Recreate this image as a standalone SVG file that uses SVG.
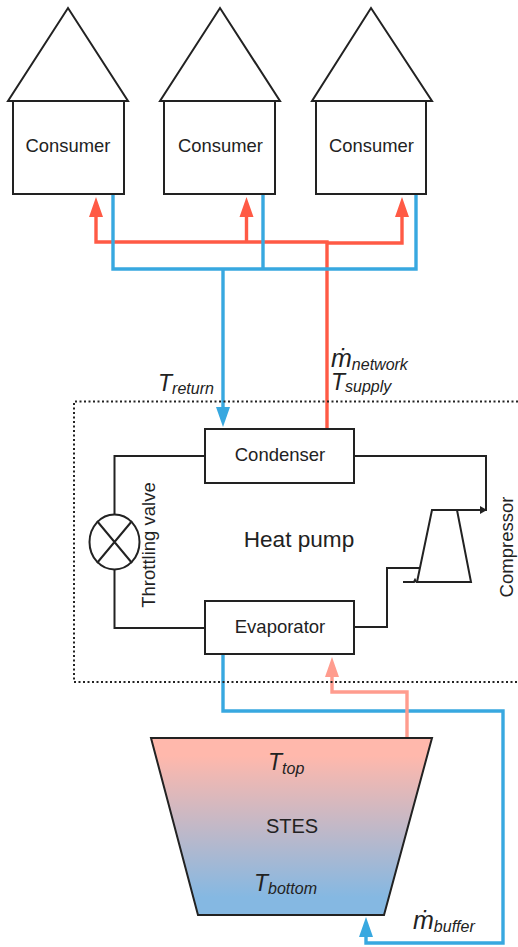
<svg xmlns="http://www.w3.org/2000/svg" width="518" height="947" viewBox="0 0 518 947">
<style>
text{font-family:"Liberation Sans",Arial,sans-serif;fill:#222;text-anchor:middle}
.b{fill:#fff;stroke:#222;stroke-width:2}
.f{fill:none;stroke:#222;stroke-width:2;stroke-linejoin:miter}
.t{font-size:18.400px}
.i{font-style:italic;font-size:23px;text-anchor:start}
.m{font-size:25px}
.u{font-size:16px}
.s{font-size:18.500px}
.red{fill:none;stroke:#ff5a45;stroke-width:3.4}
.blue{fill:none;stroke:#38a8e0;stroke-width:3.4}
.sal{fill:none;stroke:#ff9c8e;stroke-width:3.4}
</style>
<defs>
<linearGradient id="g" x1="0" y1="0" x2="0" y2="1">
<stop offset="0.1" stop-color="#ffb8ac"/><stop offset="0.9" stop-color="#85b8e2"/>
</linearGradient>
</defs>
<g id="connectors">
<path class="red" d="M327 429V242H96V210M246.500 242V210M327 243H402V210"/>
<path d="M96 197l-7 20h14zM246.500 197l-7 20h14zM402 197l-7 20h14z" fill="#ff5a45"/>
<path class="blue" d="M113 195V269H416V195M263 195V269M223 269V410"/>
<path d="M223 427l-7-20h14z" fill="#38a8e0"/>
<path class="blue" d="M223 655V711H503V943H366V930"/>
<path d="M366 917l-7 20h14z" fill="#38a8e0"/>
<path class="sal" d="M407 738V692H332V670"/>
<path d="M332 657l-7 20h14z" fill="#ff9c8e"/>
<path class="f" d="M205 456H114.500V515M114.500 569V628H205M354 456H486V510H432M354 627H387V568H420M403 582H414l1-2 1 2"/>
<path d="M487 510l-7-4v8z" fill="#222"/>
</g>
<g id="heat-pump-boundary"><path d="M518 401.500H74V682H518" fill="none" stroke="#222" stroke-width="2" stroke-dasharray="2 2.500"/></g>
<g id="consumer-1"><rect class="b" x="13" y="101" width="111" height="93"/><path class="f" d="M8 101H128L68 8Z"/><text class="t" x="68" y="152">Consumer</text></g>
<g id="consumer-2"><rect class="b" x="164" y="101" width="111" height="93"/><path class="f" d="M160 101H280L220 8Z"/><text class="t" x="220.500" y="152">Consumer</text></g>
<g id="consumer-3"><rect class="b" x="316" y="101" width="110" height="93"/><path class="f" d="M312 101H432L371 8Z"/><text class="t" x="371.500" y="152">Consumer</text></g>
<g id="condenser"><rect class="b" x="205" y="429" width="149" height="54"/><text class="s" x="280" y="460.500">Condenser</text></g>
<g id="evaporator"><rect class="b" x="205" y="601" width="149" height="53"/><text class="s" x="280" y="632.500">Evaporator</text></g>
<g id="throttling-valve"><ellipse class="b" cx="114.500" cy="542" rx="25" ry="27.500"/><path class="f" d="M97 521L132 563M132 521L97 563"/><text class="s" x="155" y="545" transform="rotate(-90 155 545)">Throttling valve</text></g>
<g id="compressor"><path class="f" d="M432 510H457L471 582H417Z"/><text class="s" x="513" y="547" transform="rotate(-90 513 547)">Compressor</text></g>
<g id="heat-pump-label"><text x="299" y="547" font-size="22.600">Heat pump</text></g>
<g id="stes"><path d="M151 738H432L384 915H198Z" fill="url(#g)" stroke="#222" stroke-width="2"/>
<text x="292" y="833" font-size="20">STES</text>
<text class="i" x="268" y="770">T<tspan class="u" dy="4">top</tspan></text>
<text class="i" x="254" y="891">T<tspan class="u" dy="3">bottom</tspan></text></g>
<g id="labels">
<text class="i" x="158" y="391">T<tspan class="u" dy="3">return</tspan></text>
<text class="i" x="331" y="367"><tspan class="m">ṁ</tspan><tspan class="u" dy="3">network</tspan><tspan x="331" dy="20">T</tspan><tspan class="u" dy="2">supply</tspan></text>
<text class="i" x="413" y="929"><tspan class="m">ṁ</tspan><tspan class="u" dy="3">buffer</tspan></text>
</g>
</svg>
